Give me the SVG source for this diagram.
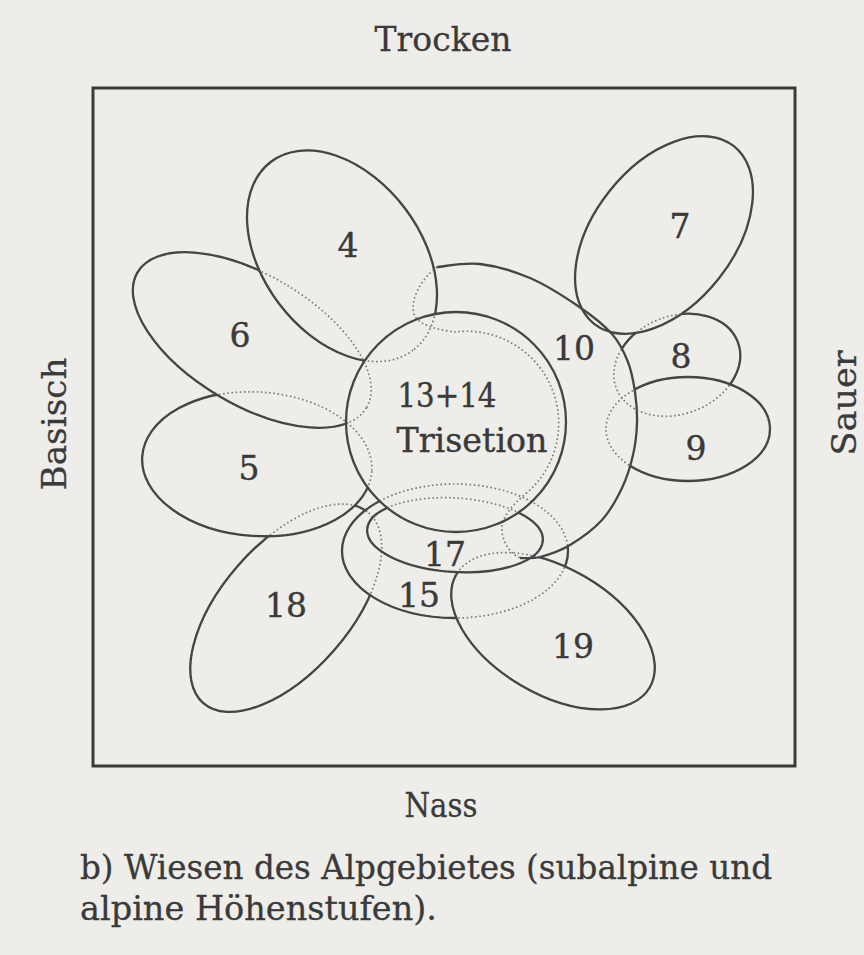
<svg xmlns="http://www.w3.org/2000/svg" xmlns:xlink="http://www.w3.org/1999/xlink" width="864" height="955" viewBox="0 0 864 955">
<style>
.bg{fill:#eeede9}
.frame{fill:none;stroke:#3a3a3a;stroke-width:3}
.sol{fill:none;stroke:#454545;stroke-width:2.3}
.dot{fill:none;stroke:#7a7a7a;stroke-width:1.7;stroke-dasharray:1.6 2.6}
.lbl{font-family:"DejaVu Serif","Liberation Serif",serif;font-size:33px;fill:#3a3a3a;stroke:#3a3a3a;stroke-width:0.4;text-anchor:middle}
.axis{font-family:"DejaVu Serif","Liberation Serif",serif;font-size:34px;fill:#3a3a3a;stroke:#3a3a3a;stroke-width:0.3;text-anchor:middle}
.cap{font-family:"DejaVu Serif","Liberation Serif",serif;font-size:33px;fill:#3a3a3a;stroke:#3a3a3a;stroke-width:0.3}
</style>
<defs>
<ellipse id="eC" cx="456" cy="422" rx="110" ry="110"/>
<ellipse id="e4" cx="342" cy="256" rx="118" ry="79" transform="rotate(53 342 256)"/>
<ellipse id="e6" cx="252" cy="340" rx="133" ry="65" transform="rotate(30.6 252 340)"/>
<ellipse id="e5" cx="257" cy="464" rx="115" ry="72" transform="rotate(3.6 257 464)"/>
<ellipse id="e18" cx="286" cy="608" rx="126" ry="64" transform="rotate(-49 286 608)"/>
<ellipse id="e19" cx="553" cy="631" rx="112" ry="63" transform="rotate(30.3 553 631)"/>
<ellipse id="e15" cx="455" cy="551" rx="113" ry="67"/>
<ellipse id="e17" cx="455" cy="535" rx="88" ry="37" transform="rotate(3.6 455 535)"/>
<ellipse id="e7" cx="664" cy="235" rx="113" ry="70" transform="rotate(-51.8 664 235)"/>
<ellipse id="e8" cx="677" cy="365" rx="65" ry="49" transform="rotate(-20.8 677 365)"/>
<ellipse id="e9" cx="688" cy="429" rx="82" ry="52"/>
<path id="p10out" d="M437,267 C444.2,266.5 464.5,262.2 480,264 C495.5,265.8 513.7,271 530,278 C546.3,285 564.3,296.7 578,306 C591.7,315.3 603.7,324.7 612,334 C620.3,343.3 624.2,352.3 628,362 C631.8,371.7 633.5,381.8 635,392 C636.5,402.2 637.3,412.5 637,423 C636.7,433.5 635.5,444.2 633,455 C630.5,465.8 627.2,477.2 622,488 C616.8,498.8 610.7,510.5 602,520 C593.3,529.5 580.3,538.8 570,545 C559.7,551.2 548.3,554.8 540,557 C531.7,559.2 523.3,557.8 520,558"/>
<path id="p10in" d="M437,267 C420,280 410,300 414,314 C418,326 440,330 455,332 A92 92 0 0 1 530,490 C512,505 500,518 502,532 C504,546 512,554 520,558"/>
<path id="p10area" d="M437,267 C444.2,266.5 464.5,262.2 480,264 C495.5,265.8 513.7,271 530,278 C546.3,285 564.3,296.7 578,306 C591.7,315.3 603.7,324.7 612,334 C620.3,343.3 624.2,352.3 628,362 C631.8,371.7 633.5,381.8 635,392 C636.5,402.2 637.3,412.5 637,423 C636.7,433.5 635.5,444.2 633,455 C630.5,465.8 627.2,477.2 622,488 C616.8,498.8 610.7,510.5 602,520 C593.3,529.5 580.3,538.8 570,545 C559.7,551.2 548.3,554.8 540,557 C531.7,559.2 523.3,557.8 520,558 C512,554 504,546 502,532 C500,518 512,505 530,490 A92 92 0 0 0 455,332 C440,330 418,326 414,314 C410,300 420,280 437,267 Z"/>
<mask id="m4" maskUnits="userSpaceOnUse" x="0" y="0" width="864" height="955"><rect width="864" height="955" fill="#fff"/><use xlink:href="#eC" fill="#000"/></mask>
<mask id="m6" maskUnits="userSpaceOnUse" x="0" y="0" width="864" height="955"><rect width="864" height="955" fill="#fff"/><use xlink:href="#eC" fill="#000"/><use xlink:href="#e4" fill="#000"/></mask>
<mask id="m5" maskUnits="userSpaceOnUse" x="0" y="0" width="864" height="955"><rect width="864" height="955" fill="#fff"/><use xlink:href="#eC" fill="#000"/><use xlink:href="#e6" fill="#000"/></mask>
<mask id="m18" maskUnits="userSpaceOnUse" x="0" y="0" width="864" height="955"><rect width="864" height="955" fill="#fff"/><use xlink:href="#eC" fill="#000"/><use xlink:href="#e5" fill="#000"/><use xlink:href="#e15" fill="#000"/></mask>
<mask id="m15" maskUnits="userSpaceOnUse" x="0" y="0" width="864" height="955"><rect width="864" height="955" fill="#fff"/><use xlink:href="#eC" fill="#000"/><use xlink:href="#p10area" fill="#000"/><use xlink:href="#e19" fill="#000"/></mask>
<mask id="m17" maskUnits="userSpaceOnUse" x="0" y="0" width="864" height="955"><rect width="864" height="955" fill="#fff"/><use xlink:href="#eC" fill="#000"/></mask>
<mask id="m19" maskUnits="userSpaceOnUse" x="0" y="0" width="864" height="955"><rect width="864" height="955" fill="#fff"/><use xlink:href="#e17" fill="#000"/><use xlink:href="#p10area" fill="#000"/></mask>
<mask id="m8" maskUnits="userSpaceOnUse" x="0" y="0" width="864" height="955"><rect width="864" height="955" fill="#fff"/><use xlink:href="#e7" fill="#000"/><use xlink:href="#e9" fill="#000"/><use xlink:href="#p10area" fill="#000"/></mask>
<mask id="m9" maskUnits="userSpaceOnUse" x="0" y="0" width="864" height="955"><rect width="864" height="955" fill="#fff"/><use xlink:href="#p10area" fill="#000"/></mask>
</defs>
<rect class="bg" x="0" y="0" width="864" height="955"/>
<g id="axes">
<text class="axis" x="443" y="51" textLength="137" lengthAdjust="spacingAndGlyphs">Trocken</text>
<text class="axis" x="441" y="817" textLength="73" lengthAdjust="spacingAndGlyphs">Nass</text>
<text class="axis" transform="translate(66 424) rotate(-90)" textLength="133" lengthAdjust="spacingAndGlyphs">Basisch</text>
<text class="axis" transform="translate(856 403) rotate(-90)" textLength="105" lengthAdjust="spacingAndGlyphs">Sauer</text>
</g>
<rect id="frame" class="frame" x="93" y="88" width="702" height="678"/>
<g id="connectors"/>
<g id="n18"><use xlink:href="#e18" class="dot"/><use xlink:href="#e18" class="sol" mask="url(#m18)"/><text class="lbl" x="286" y="617">18</text></g>
<g id="n5"><use xlink:href="#e5" class="dot"/><use xlink:href="#e5" class="sol" mask="url(#m5)"/><text class="lbl" x="249" y="480">5</text></g>
<g id="n6"><use xlink:href="#e6" class="dot"/><use xlink:href="#e6" class="sol" mask="url(#m6)"/><text class="lbl" x="240" y="347">6</text></g>
<g id="n4"><use xlink:href="#e4" class="dot"/><use xlink:href="#e4" class="sol" mask="url(#m4)"/><text class="lbl" x="348" y="257">4</text></g>
<g id="n15"><use xlink:href="#e15" class="dot"/><use xlink:href="#e15" class="sol" mask="url(#m15)"/><text class="lbl" x="419" y="607">15</text></g>
<g id="n19"><use xlink:href="#e19" class="dot"/><use xlink:href="#e19" class="sol" mask="url(#m19)"/><text class="lbl" x="573" y="658">19</text></g>
<g id="n17"><use xlink:href="#e17" class="dot"/><use xlink:href="#e17" class="sol" mask="url(#m17)"/><text class="lbl" x="445" y="566">17</text></g>
<g id="n10"><use xlink:href="#p10in" class="dot"/><use xlink:href="#p10out" class="sol"/><text class="lbl" x="574" y="360">10</text></g>
<g id="n7"><use xlink:href="#e7" class="sol"/><text class="lbl" x="680" y="238">7</text></g>
<g id="n8"><use xlink:href="#e8" class="dot"/><use xlink:href="#e8" class="sol" mask="url(#m8)"/><text class="lbl" x="681" y="368">8</text></g>
<g id="n9"><use xlink:href="#e9" class="dot"/><use xlink:href="#e9" class="sol" mask="url(#m9)"/><text class="lbl" x="696" y="460">9</text></g>
<g id="n13"><use xlink:href="#eC" class="sol"/><text class="lbl" x="447" y="407" textLength="99" lengthAdjust="spacingAndGlyphs">13+14</text><text class="lbl" x="472" y="452" textLength="151" lengthAdjust="spacingAndGlyphs">Trisetion</text></g>
<g id="caption">
<text class="cap" x="80" y="879" textLength="692" lengthAdjust="spacingAndGlyphs">b) Wiesen des Alpgebietes (subalpine und</text>
<text class="cap" x="80" y="920" textLength="357" lengthAdjust="spacingAndGlyphs">alpine Höhenstufen).</text>
</g>
</svg>
